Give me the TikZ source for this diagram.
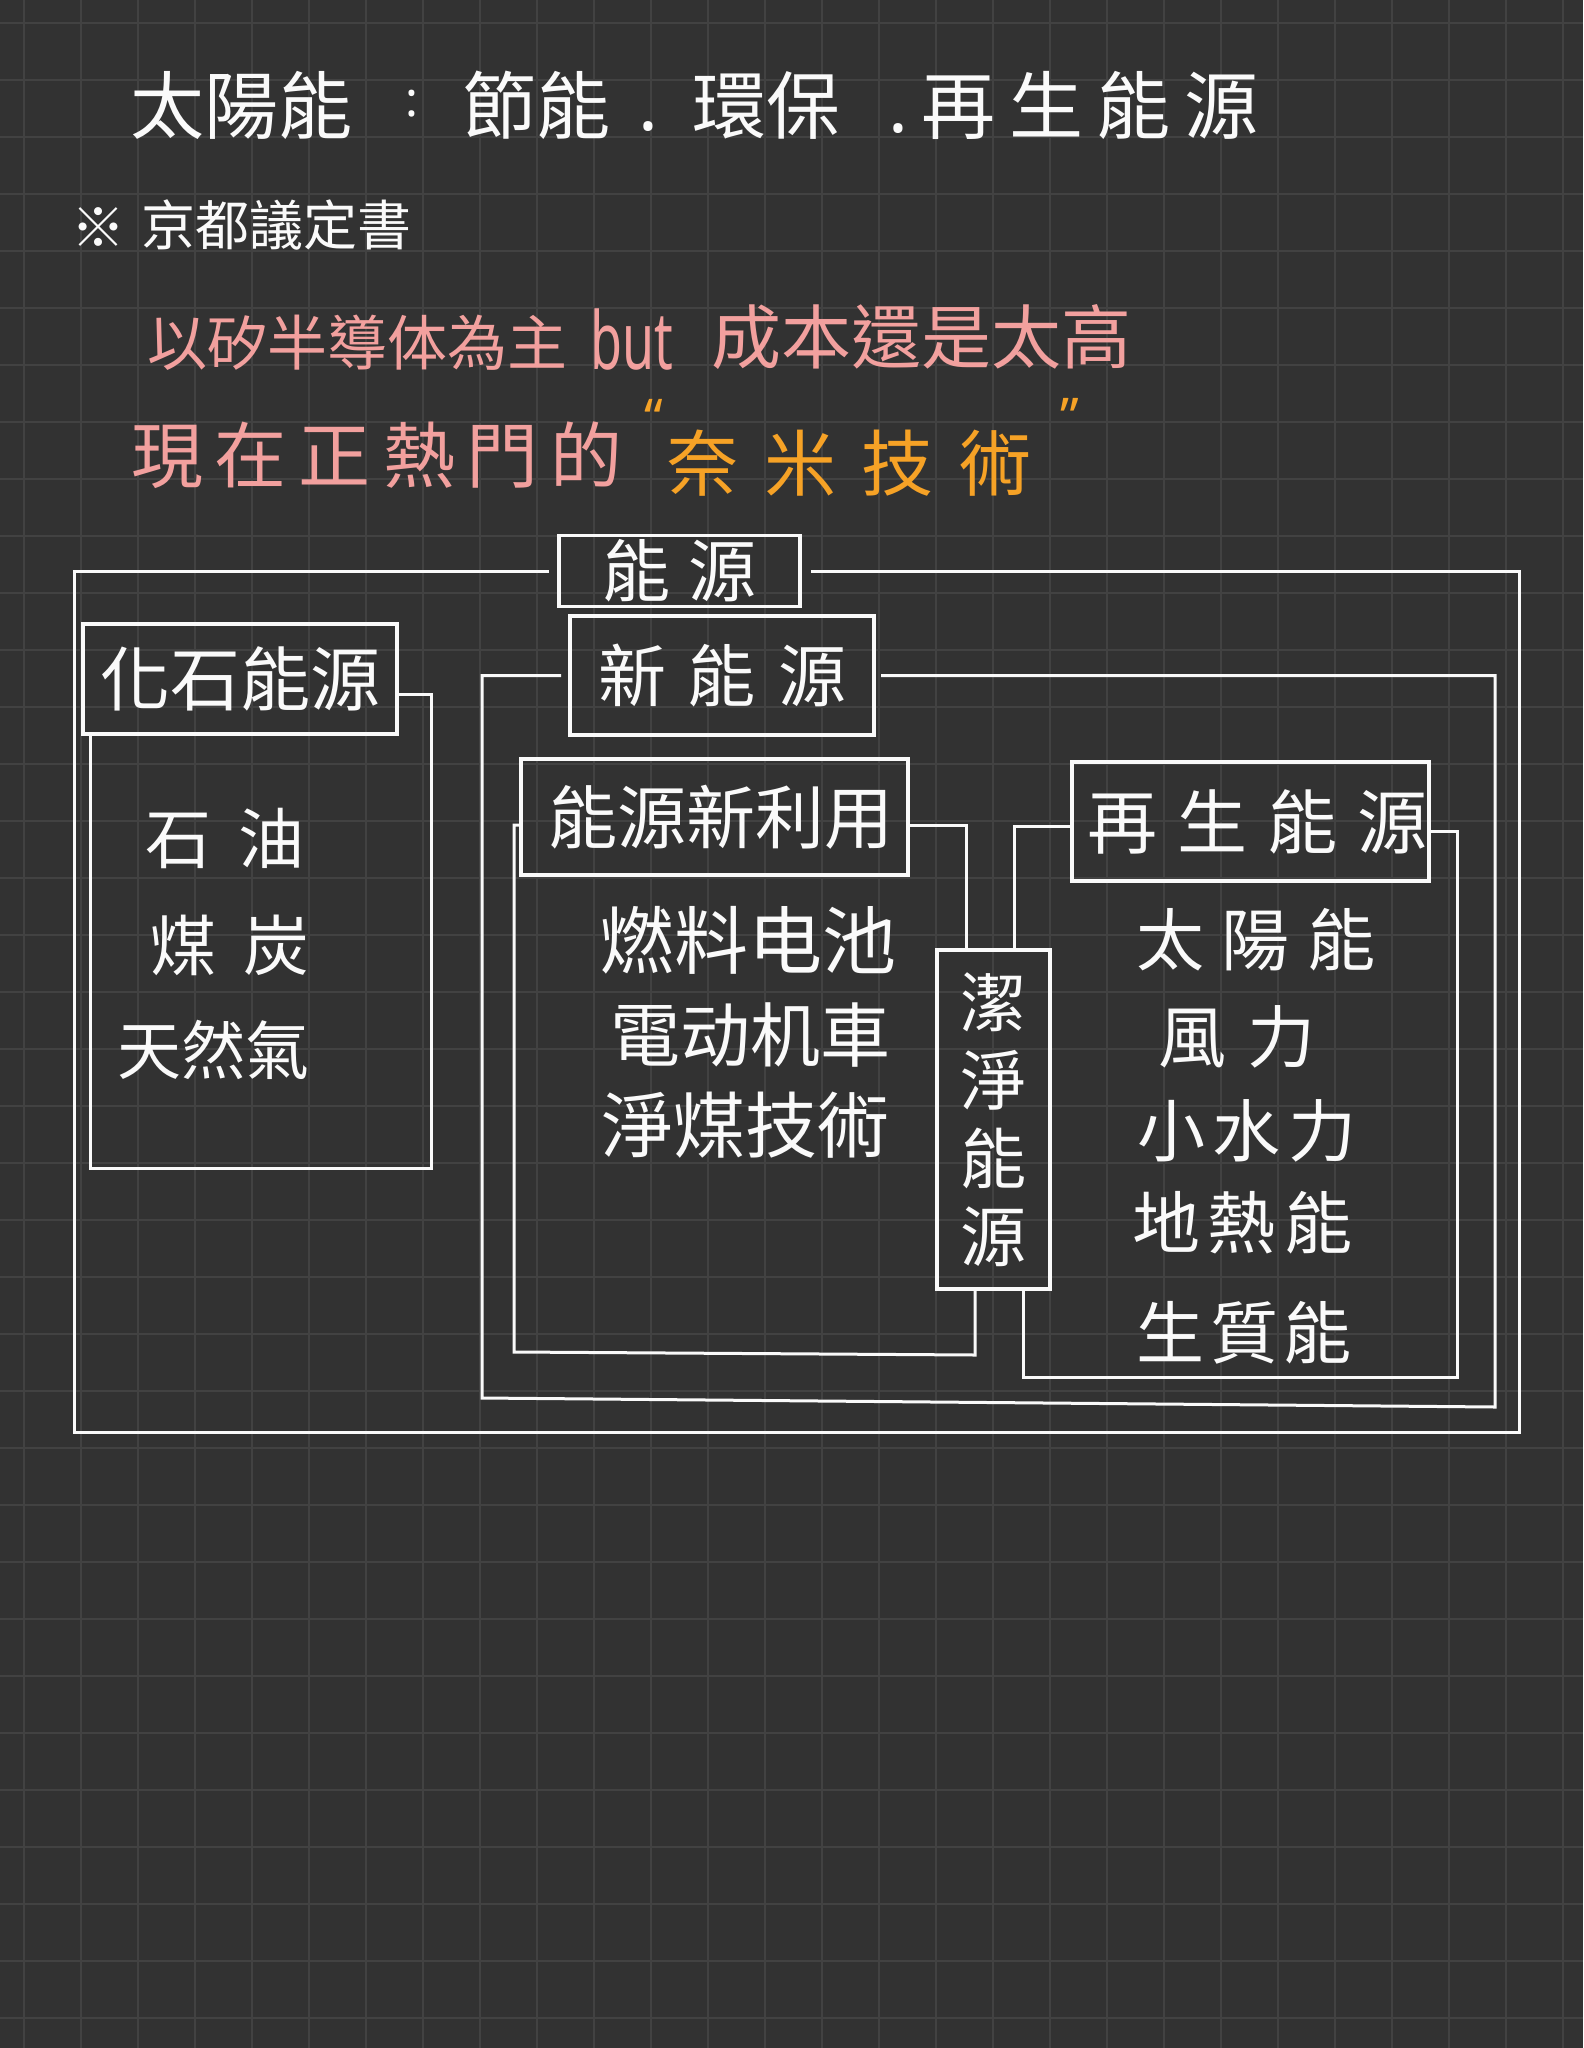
\documentclass[tikz,border=0pt]{standalone}
\usepackage{fontspec}
\setmainfont{Noto Sans CJK TC}
\newfontfamily\latinfont{Noto Sans}
\usetikzlibrary{calc}
\definecolor{cbg}{RGB}{50,50,50}
\definecolor{cgrid}{RGB}{66,66,66}
\definecolor{cwhite}{RGB}{250,250,250}
\definecolor{cpink}{RGB}{242,160,158}
\definecolor{corange}{RGB}{246,162,38}
\newcommand\fsz[1]{\fontsize{#1}{#1}\selectfont}

\begin{document}
\begin{tikzpicture}[x=0.5pt, y=-0.5pt, inner sep=0pt, outer sep=0pt,
  hand/.style={text=cwhite},
  pinkhand/.style={text=cpink},
  orangehand/.style={text=corange},
  box/.style={draw=cwhite, line width=1.6pt, text=cwhite},
  frame/.style={draw=cwhite, line width=1.5pt, line join=miter}]

% paper and grid
\fill[cbg] (0,0) rectangle (1583,2048);
\useasboundingbox (0,0) rectangle (1583,2048);
\foreach \gx in {0,...,27}
  \draw[cgrid, line width=1pt] ({24+57*\gx},0) -- ({24+57*\gx},2048);
\foreach \gy in {0,...,35}
  \draw[cgrid, line width=1pt] (0,{23+57*\gy}) -- (1583,{23+57*\gy});

% heading lines
\node[hand, font=\fsz{37pt}] (ttl-a) at (241,105) {太陽能};
\node[hand, font=\latinfont\fsz{24pt}] (ttl-colon) at (412,104) {:};
\node[hand, font=\fsz{37pt}] (ttl-b) at (536,105) {節能};
\node[hand, font=\latinfont\fsz{37pt}] (ttl-dot1) at (648,127) {.};
\node[hand, font=\fsz{37pt}] (ttl-c) at (766,105) {環保};
\node[hand, font=\latinfont\fsz{37pt}] (ttl-dot2) at (898,129) {.};
\node[hand, font=\fsz{37pt}] (ttl-d) at (1090,105) {再\hspace{7pt}生\hspace{7pt}能\hspace{7pt}源};

\node[hand, font=\fsz{27pt}] (kyoto-mark) at (98,228) {※};
\node[hand, font=\fsz{27pt}] (kyoto) at (276,225) {京都議定書};

\node[pinkhand, font=\fsz{30pt}] (cost-a) at (357,343) {以矽半導体為主};
\node[pinkhand, font=\latinfont\fsz{40pt}] (cost-but) at (632,340) {\scalebox{0.65}[1]{but}};
\node[pinkhand, font=\fsz{35pt}] (cost-b) at (921,337) {成本還是太高};

\node[pinkhand, font=\fsz{36pt}] (nano-a) at (377,455) {現\hspace{6pt}在\hspace{6pt}正\hspace{6pt}熱\hspace{6pt}門\hspace{6pt}的};
\node[orangehand, font=\latinfont\fsz{26pt}] (nano-open) at (654,418) {“};
\node[orangehand, font=\fsz{36pt}] (nano-b) at (849,463) {奈\hspace{13pt}米\hspace{13pt}技\hspace{13pt}術};
\node[orangehand, font=\latinfont\fsz{26pt}] (nano-close) at (1070,417) {”};

% boxes
\node[box, minimum width=120.5pt, minimum height=35.5pt, font=\fsz{34pt}] (nengyuan) at (679.5,571) {能\hspace{9pt}源};
\node[box, minimum width=152pt, minimum height=59.5pt, font=\fsz{34pt}] (xin) at (722,675.5) {新\hspace{11pt}能\hspace{11pt}源\hspace{15pt}};
\node[box, minimum width=157pt, minimum height=55pt, font=\fsz{35pt}] (huashi) at (240,679) {化石能源};
\node[box, minimum width=193.5pt, minimum height=58pt, font=\fsz{34.5pt}] (xinliyong) at (714.5,817) {\hspace{6pt}能源新利用};
\node[box, minimum width=56.5pt, minimum height=169.5pt, align=center, font=\fontsize{33pt}{39pt}\selectfont] (jiejing) at (993.5,1119.5) {潔\\淨\\能\\源};
\node[box, minimum width=178.5pt, minimum height=59.5pt, font=\fsz{35pt}] (zaisheng) at (1250.5,821.5) {\hspace{7pt}再\hspace{10pt}生\hspace{10pt}能\hspace{10pt}源};

% lists
\node[hand, font=\fsz{33pt}] (oil) at (225,838) {石\hspace{13.5pt}油};
\node[hand, font=\fsz{33pt}] (coal) at (230,945) {煤\hspace{13.5pt}炭};
\node[hand, font=\fsz{32pt}] (gas) at (213,1050) {天然氣};

\node[hand, font=\fsz{37pt}] (fuelcell) at (748,940) {燃料电池};
\node[hand, font=\fsz{35pt}] (ebike) at (750,1035) {電动机車};
\node[hand, font=\fsz{36pt}] (cleancoal) at (745,1125) {淨煤技術};

\node[hand, font=\fsz{34pt}] (solar) at (1256,940) {太\hspace{9pt}陽\hspace{9pt}能};
\node[hand, font=\fsz{34pt}] (wind) at (1237,1037) {風\hspace{10.5pt}力};
\node[hand, font=\fsz{34pt}] (hydro) at (1247,1131) {小\hspace{4pt}水\hspace{4pt}力};
\node[hand, font=\fsz{34pt}] (geo) at (1242,1223) {地\hspace{4pt}熱\hspace{4pt}能};
\node[hand, font=\fsz{34pt}] (bio) at (1244,1333) {生\hspace{3pt}質\hspace{3pt}能};

% frames
\draw[frame, shorten <=5pt, shorten >=5.5pt] (nengyuan.west) -| (74,1432) -- (1519,1432) |- (nengyuan.east);
\draw[frame, shorten <=4.5pt, shorten >=3.5pt] (xin.west) -| (482,1398) -- (1495,1407) |- (xin.east);
\draw[frame] ($(huashi.south west)+(7,0)$) -- (90,1168) -- (431,1168) |- ($(huashi.east)+(0,15)$);
\draw[frame] ($(xinliyong.west)+(0,8)$) -| (514,1352) -- (975,1355) -- ($(jiejing.south)+(-18.5,0)$);
\draw[frame] ($(xinliyong.east)+(0,8)$) -| ($(jiejing.north)+(-27,0)$);
\draw[frame] ($(zaisheng.west)+(0,5)$) -| ($(jiejing.north)+(20.5,0)$);
\draw[frame] ($(zaisheng.east)+(0,10)$) -| (1457,1377) -| ($(jiejing.south)+(29.5,0)$);

\end{tikzpicture}
\end{document}
